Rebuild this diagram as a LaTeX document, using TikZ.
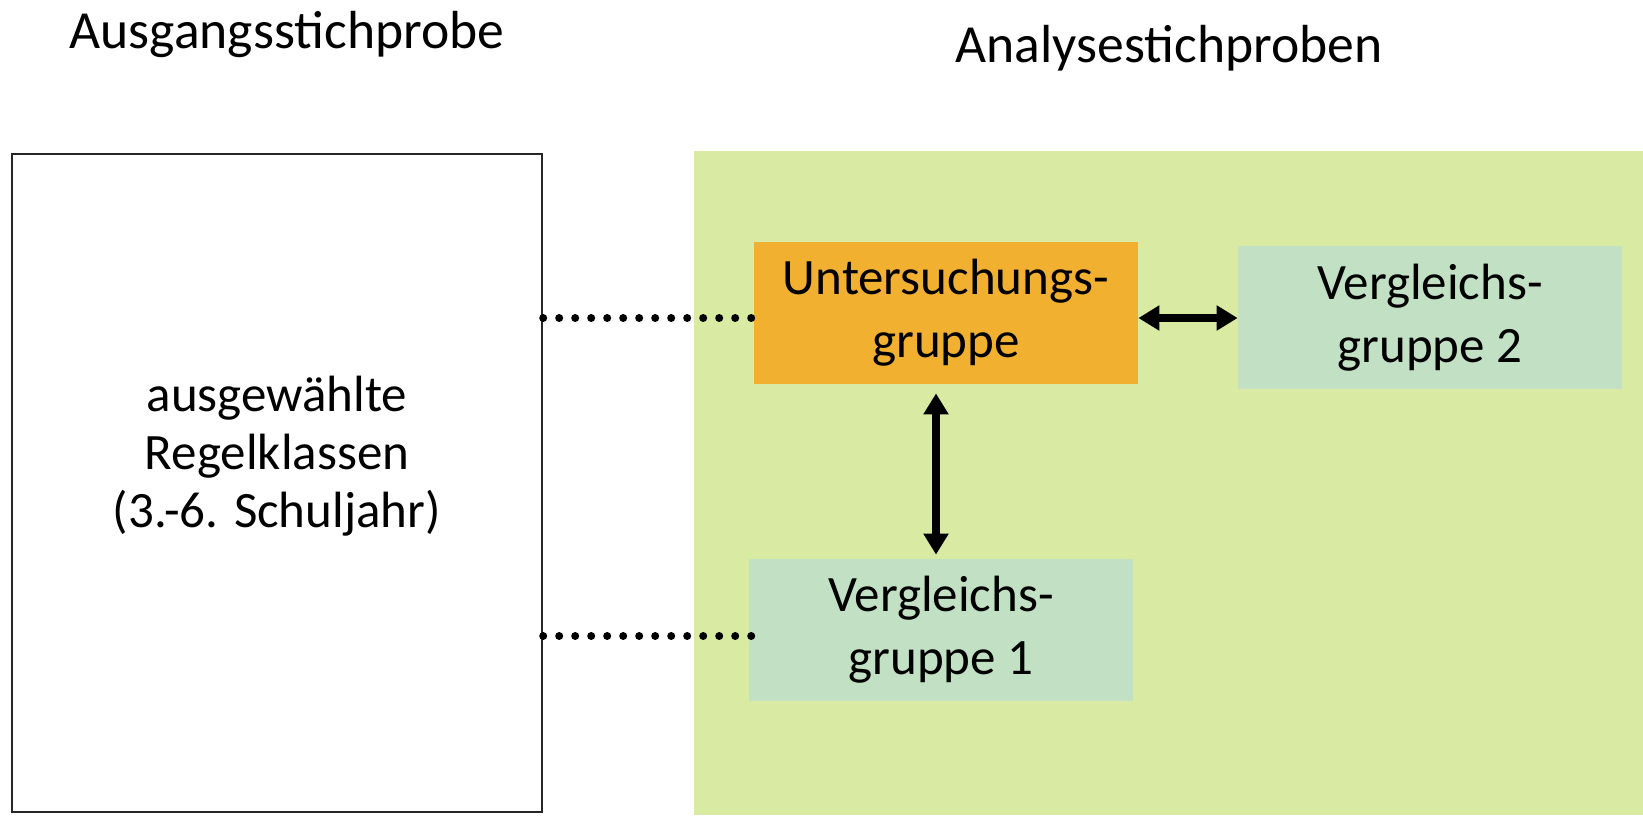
\documentclass[tikz,border=0pt]{standalone}
\usepackage{fontspec}
\setmainfont{Carlito}
\usetikzlibrary{arrows.meta,calc}
\definecolor{bggreen}{RGB}{217,234,162}
\definecolor{uorange}{RGB}{242,176,48}
\definecolor{vgreen}{RGB}{194,224,196}
\begin{document}
\begin{tikzpicture}[x=0.5pt,y=-0.5pt,
  every node/.style={font=\fontsize{25.5pt}{31.5pt}\selectfont},
  title/.style={anchor=base,inner sep=0pt,font=\fontsize{26.8pt}{32pt}\selectfont},
  group/.style={rectangle,inner sep=0pt,minimum width=192pt,minimum height=71pt,align=center},
  dbl/.style={line width=3.75pt,{Triangle[width=12pt,length=10.5pt]}-{Triangle[width=12pt,length=10.5pt]}},
  dots/.style={line width=4pt,line cap=round,dash pattern=on 0pt off 8pt}]
\useasboundingbox (0,0) rectangle (1643,815);
\fill[white] (0,0) rectangle (1643,815);
% titles
\node[title] (t1) at (287,48) {Ausgangsstichprobe};
\node[title] (t2) at (1169,62) {Analysestichproben};
% left box
\node[draw=black!85,line width=1.2pt,fill=white,inner sep=0pt,minimum width=265pt,minimum height=329pt] (L) at (277,483) {};
\node[align=center,inner sep=0pt,font=\fontsize{25.5pt}{29pt}\selectfont] (Lt) at (277,456) {ausgewählte\\Regelklassen\\(3.-6. Schuljahr)};
% green region
\fill[bggreen] (694,151) rectangle (1643,815);
% groups
\node[group,fill=uorange] (U) at (946,313) {Untersuchungs-\\gruppe};
\node[group,fill=vgreen,minimum height=71.5pt] (V2) at (1430,317.5) {Vergleichs-\\gruppe 2};
\node[group,fill=vgreen] (V1) at (941,630) {Vergleichs-\\gruppe 1};
% arrows
\coordinate (h1) at ($(U.east)+(0,5)$);
\draw[dbl] (h1) -- (h1 -| V2.west);
\coordinate (v1) at ($(U.south)+(-10,0)$);
\draw[dbl,shorten <=4.5pt,shorten >=2pt] (v1) -- (v1 |- V1.north);
% dotted connectors
\coordinate (d1) at ($(U.west)+(0,5)$);
\draw[dots] (d1 -| L.east) -- (d1);
\coordinate (d2) at ($(V1.west)+(4,6)$);
\draw[dots] (d2 -| L.east) -- (d2);
\end{tikzpicture}
\end{document}
